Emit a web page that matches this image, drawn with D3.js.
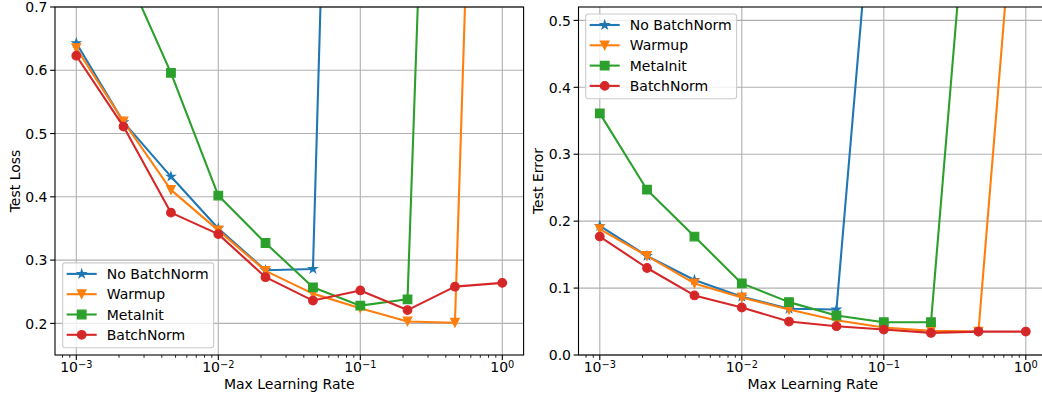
<!DOCTYPE html>
<html>
<head>
<meta charset="utf-8">
<script src="https://cdn.jsdelivr.net/npm/d3@7"></script>
<style>
  html, body { margin: 0; padding: 0; background: #fff; overflow: hidden; }
  text { font-family: "DejaVu Sans", sans-serif; fill: #000; }
</style>
</head>
<body>
<div id="chart"></div>
<script>
// learning rates on the x axis (log scale)
const learningRates = [0.001, 0.00215, 0.00464, 0.01, 0.0215, 0.0464, 0.1, 0.215, 0.464, 1.0];
const seriesNames = ["No BatchNorm", "Warmup", "MetaInit", "BatchNorm"];
const seriesColors = ["#1f77b4", "#ff7f0e", "#2ca02c", "#d62728"];
const seriesMarkers = ["star", "triangleDown", "square", "circle"];

// test loss (left panel); null = no point
const lossNoBatchNorm = [0.643, 0.518, 0.432, 0.350, 0.284, 0.286, 2.9, null, null, null];
const lossWarmup      = [0.635, 0.519, 0.411, 0.347, 0.283, 0.247, 0.224, 0.203, 0.201, 2.56];
const lossMetaInit    = [0.95, 0.764, 0.596, 0.402, 0.327, 0.257, 0.228, 0.238, 2.38, null];
const lossBatchNorm   = [0.623, 0.511, 0.375, 0.341, 0.273, 0.236, 0.252, 0.221, 0.258, 0.264];

// test error (right panel)
const errNoBatchNorm = [0.193, 0.148, 0.112, 0.087, 0.069, 0.068, 0.9, null, null, null];
const errWarmup      = [0.188, 0.148, 0.107, 0.086, 0.068, 0.052, 0.041, 0.036, 0.035, 0.9];
const errMetaInit    = [0.361, 0.247, 0.177, 0.107, 0.079, 0.059, 0.049, 0.049, 0.9, null];
const errBatchNorm   = [0.177, 0.130, 0.089, 0.071, 0.050, 0.043, 0.038, 0.033, 0.035, 0.035];

const xTickValues = [0.001, 0.01, 0.1, 1];
const xTickExponents = ["\u22123", "\u22122", "\u22121", "0"];
const lossTicks = [0.2, 0.3, 0.4, 0.5, 0.6, 0.7];
const errTicks = [0.0, 0.1, 0.2, 0.3, 0.4, 0.5];

const W = 1042, H = 396;
const fs = 14;
const lw = 2.1;
const ms = 8.6;

const svg = d3.select("#chart").append("svg")
  .attr("width", W).attr("height", H)
  .style("display", "block");

// marker path generator (matplotlib-like shapes, centered at 0,0)
function markerPath(kind) {
  const r = ms / 2;
  if (kind === "circle") {
    return d3.symbol(d3.symbolCircle, Math.PI * r * r)();
  }
  if (kind === "square") {
    return `M${-r},${-r}H${r}V${r}H${-r}Z`;
  }
  if (kind === "triangleDown") {
    return `M0,${r}L${-r},${-r}L${r},${-r}Z`;
  }
  // 5 point star
  const inner = r * 0.381966;
  const pts = [];
  for (let i = 0; i < 10; i++) {
    const rad = i % 2 === 0 ? r : inner;
    const a = -Math.PI / 2 + i * Math.PI / 5;
    pts.push([rad * Math.cos(a), rad * Math.sin(a)]);
  }
  return "M" + pts.map(p => p.join(",")).join("L") + "Z";
}

function drawPanel(opts) {
  const { id, x0, x1, y0, y1, yDomain, yTicks, series, yLabel, legendPos } = opts;

  const x = d3.scaleLog().domain([Math.pow(10, -3.15), Math.pow(10, 0.15)]).range([x0, x1]);
  const y = d3.scaleLinear().domain(yDomain).range([y1, y0]);

  const g = svg.append("g");

  g.append("clipPath").attr("id", "clip-" + id)
    .append("rect").attr("x", x0).attr("y", y0).attr("width", x1 - x0).attr("height", y1 - y0);

  // grid
  const grid = g.append("g").attr("stroke", "#b0b0b0").attr("stroke-width", 1.1);
  xTickValues.forEach(v => {
    grid.append("line").attr("x1", x(v)).attr("x2", x(v)).attr("y1", y0).attr("y2", y1);
  });
  yTicks.forEach(v => {
    grid.append("line").attr("x1", x0).attr("x2", x1).attr("y1", y(v)).attr("y2", y(v));
  });

  // series
  const plot = g.append("g").attr("clip-path", `url(#clip-${id})`);
  const line = d3.line()
    .defined(d => d[1] !== null)
    .x(d => x(d[0])).y(d => y(d[1]));

  series.forEach((vals, si) => {
    const pts = learningRates.map((lr, i) => [lr, vals[i]]);
    const color = seriesColors[si];
    plot.append("path")
      .attr("d", line(pts))
      .attr("fill", "none")
      .attr("stroke", color)
      .attr("stroke-width", lw)
      .attr("stroke-linejoin", "round");
    const mp = markerPath(seriesMarkers[si]);
    plot.append("g").selectAll("path")
      .data(pts.filter(d => d[1] !== null))
      .join("path")
      .attr("d", mp)
      .attr("transform", d => `translate(${x(d[0])},${y(d[1])})`)
      .attr("fill", color)
      .attr("stroke", color)
      .attr("stroke-width", 1.2);
  });

  // spines
  g.append("rect")
    .attr("x", x0).attr("y", y0).attr("width", x1 - x0).attr("height", y1 - y0)
    .attr("fill", "none").attr("stroke", "#000").attr("stroke-width", 1.1);

  // x ticks: major + minor
  const ticks = g.append("g").attr("stroke", "#000");
  const [dmin, dmax] = x.domain();
  for (let e = -4; e <= 0; e++) {
    for (let m = 1; m <= 9; m++) {
      const v = m * Math.pow(10, e);
      if (v < dmin || v > dmax) continue;
      const major = m === 1;
      ticks.append("line")
        .attr("x1", x(v)).attr("x2", x(v))
        .attr("y1", y1).attr("y2", y1 + (major ? 4.9 : 2.8))
        .attr("stroke-width", major ? 1.1 : 0.84);
    }
  }
  xTickValues.forEach((v, i) => {
    const t = g.append("text")
      .attr("x", x(v))
      .attr("y", y1 + 17)
      .attr("text-anchor", "middle")
      .attr("font-size", fs);
    t.append("tspan").text("10");
    t.append("tspan").attr("dy", -4.5).attr("font-size", fs * 0.7).text(xTickExponents[i]);
  });

  // y ticks
  yTicks.forEach(v => {
    ticks.append("line")
      .attr("x1", x0 - 4.9).attr("x2", x0)
      .attr("y1", y(v)).attr("y2", y(v))
      .attr("stroke-width", 1.1);
    g.append("text")
      .attr("x", x0 - 7.5)
      .attr("y", y(v) + 5.2)
      .attr("text-anchor", "end")
      .attr("font-size", fs)
      .text(v.toFixed(1));
  });

  // axis labels
  g.append("text")
    .attr("x", (x0 + x1) / 2).attr("y", 389)
    .attr("text-anchor", "middle").attr("font-size", fs)
    .text("Max Learning Rate");
  g.append("text")
    .attr("transform", `translate(${x0 - 35.5},${(y0 + y1) / 2}) rotate(-90)`)
    .attr("text-anchor", "middle").attr("font-size", fs)
    .text(yLabel);

  // legend
  const rowH = 20.3;
  const handleLen = 30;
  const lg = g.append("g");
  const box = lg.append("rect");
  let maxW = 0;
  const rows = seriesNames.map((name, si) => {
    const row = lg.append("g");
    row.append("line")
      .attr("x1", 0).attr("x2", handleLen).attr("y1", 0).attr("y2", 0)
      .attr("stroke", seriesColors[si]).attr("stroke-width", lw);
    row.append("path")
      .attr("d", markerPath(seriesMarkers[si]))
      .attr("transform", `translate(${handleLen / 2},0)`)
      .attr("fill", seriesColors[si]).attr("stroke", seriesColors[si]).attr("stroke-width", 1.2);
    const t = row.append("text")
      .attr("x", handleLen + 10)
      .attr("y", 5)
      .attr("font-size", fs)
      .text(name);
    maxW = Math.max(maxW, t.node().getComputedTextLength());
    return row;
  });
  const boxW = 4 + handleLen + 10 + maxW + 5;
  const boxH = rowH * 4 + 3.6;
  let bx, by;
  if (legendPos === "lower left") {
    bx = x0 + 7.7; by = y1 - 7.3 - boxH;
  } else {
    bx = x0 + 7.2; by = y0 + 7;
  }
  box.attr("x", bx).attr("y", by).attr("width", boxW).attr("height", boxH)
    .attr("rx", 2.5)
    .attr("fill", "#fff").attr("fill-opacity", 0.8)
    .attr("stroke", "#cccccc").attr("stroke-width", 1.1);
  rows.forEach((row, i) => {
    row.attr("transform", `translate(${bx + 4},${by + 11 + i * rowH})`);
  });
}

drawPanel({
  id: "loss",
  x0: 55, x1: 523.6, y0: 7, y1: 355,
  yDomain: [0.15, 0.7],
  yTicks: lossTicks,
  series: [lossNoBatchNorm, lossWarmup, lossMetaInit, lossBatchNorm],
  yLabel: "Test Loss",
  legendPos: "lower left"
});

drawPanel({
  id: "err",
  x0: 578.5, x1: 1047.1, y0: 7, y1: 355,
  yDomain: [0, 0.52],
  yTicks: errTicks,
  series: [errNoBatchNorm, errWarmup, errMetaInit, errBatchNorm],
  yLabel: "Test Error",
  legendPos: "upper left"
});
</script>
</body>
</html>
